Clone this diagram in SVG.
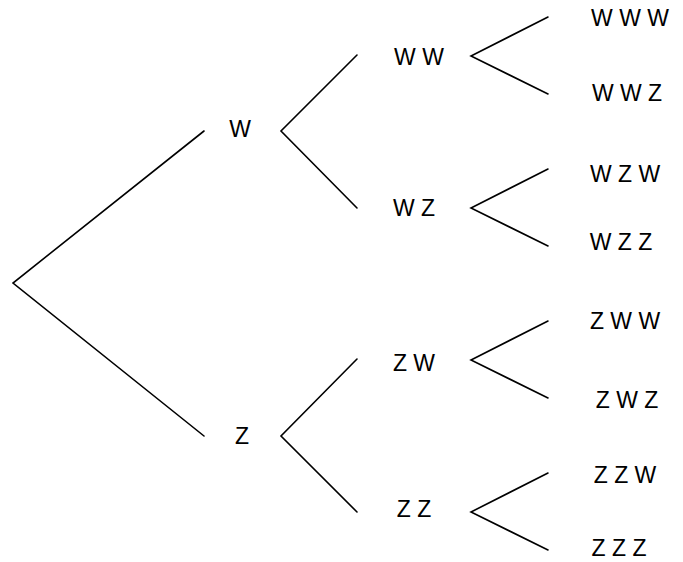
<svg xmlns="http://www.w3.org/2000/svg" width="683" height="562" viewBox="0 0 683 562">
<style>
.e{stroke:#000;stroke-width:1.6;fill:none;stroke-linecap:round}
text{font-family:"Liberation Sans",Arial,sans-serif;font-size:23px;fill:#000;text-anchor:middle}
</style>
<rect width="683" height="562" fill="#fff"/>
<g id="connectors">
<path class="e" d="M204,131 L13,283 L204,436"/>
<path class="e" d="M357,55 L281,131 L357,208"/>
<path class="e" d="M357,359 L281,436 L357,512"/>
<path class="e" d="M548,17 L471,56 L548,94"/>
<path class="e" d="M548,169 L471,208 L548,246"/>
<path class="e" d="M548,321 L471,360 L548,398"/>
<path class="e" d="M548,473 L471,512 L548,550"/>
</g>
<g id="n-W"><text x="240" y="137">W</text></g>
<g id="n-Z"><text x="242" y="444">Z</text></g>
<g id="n-WW"><text x="419" y="65">W W</text></g>
<g id="n-WZ"><text x="414" y="216">W Z</text></g>
<g id="n-ZW"><text x="414" y="371">Z W</text></g>
<g id="n-ZZ"><text x="414" y="517">Z Z</text></g>
<g id="n-WWW"><text x="630" y="26">W W W</text></g>
<g id="n-WWZ"><text x="627" y="101">W W Z</text></g>
<g id="n-WZW"><text x="625" y="182">W Z W</text></g>
<g id="n-WZZ"><text x="621" y="250">W Z Z</text></g>
<g id="n-ZWW"><text x="625" y="329">Z W W</text></g>
<g id="n-ZWZ"><text x="627" y="408">Z W Z</text></g>
<g id="n-ZZW"><text x="625" y="483">Z Z W</text></g>
<g id="n-ZZZ"><text x="619" y="556">Z Z Z</text></g>
</svg>
